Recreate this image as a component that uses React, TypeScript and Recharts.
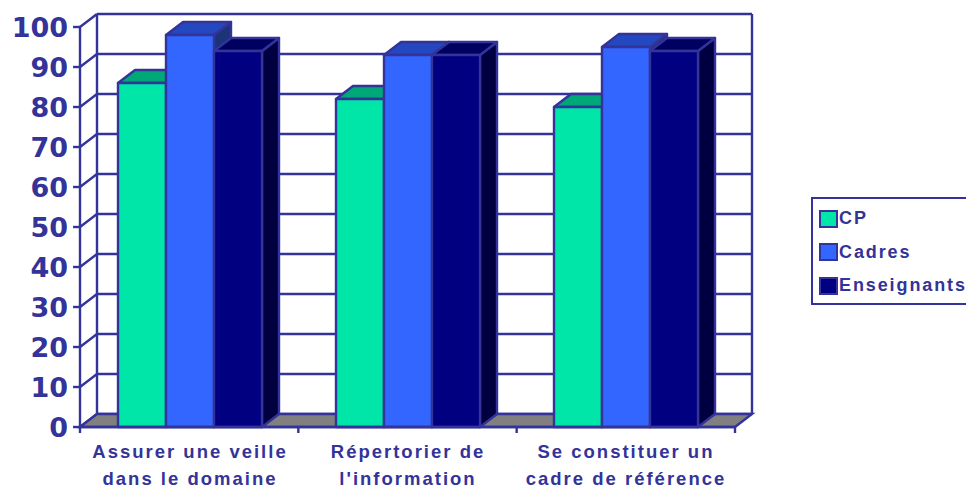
import { BarChart, Bar, XAxis, YAxis, CartesianGrid, Legend, usePlotArea } from 'recharts'

const categories = ['Assurer une veille\ndans le domaine', 'Répertorier de\nl\'information', 'Se constituer un\ncadre de référence']
const cpValues = [86, 82, 80]
const cadresValues = [98, 93, 95]
const enseignantsValues = [94, 93, 94]
const yTicks = [0, 10, 20, 30, 40, 50, 60, 70, 80, 90, 100]

const data = categories.map((name, i) => ({
  name,
  CP: cpValues[i],
  Cadres: cadresValues[i],
  Enseignants: enseignantsValues[i],
}))

const INK = '#333399'
const DX = 17
const DY = 13
const LABEL_FONT = '"Liberation Sans", Arial, sans-serif'

function Bar3D({ x, y, width, height, fill, top, side }: any) {
  return (
    <g stroke={INK} strokeWidth={2.4} strokeLinejoin="round">
      <polygon fill={side} points={`${x + width},${y} ${x + width + DX},${y - DY} ${x + width + DX},${y + height - DY} ${x + width},${y + height}`} />
      <polygon fill={top} points={`${x},${y} ${x + DX},${y - DY} ${x + width + DX},${y - DY} ${x + width},${y}`} />
      <rect x={x} y={y} width={width} height={height} fill={fill} />
    </g>
  )
}

// back wall, floor and the ticks between the categories
function Walls() {
  const plot = usePlotArea()
  if (!plot) return null
  const { x, y, width, height } = plot
  const bottom = y + height
  const band = width / categories.length
  return (
    <g stroke={INK} strokeWidth={2.4} fill="none">
      <polygon
        fill="#808080"
        points={`${x},${bottom} ${x + DX},${bottom - DY} ${x + width + DX},${bottom - DY} ${x + width},${bottom}`}
      />
      <line x1={x + DX} y1={y - DY} x2={x + DX} y2={bottom - DY} />
      <line x1={x + width + DX} y1={y - DY} x2={x + width + DX} y2={bottom - DY} />
      {categories.map((_, i) => (
        <line key={i} x1={x + band * (i + 1)} y1={bottom} x2={x + band * (i + 1)} y2={bottom + 6} />
      ))}
      <line x1={x} y1={bottom} x2={x} y2={bottom + 6} />
    </g>
  )
}

function GridLine({ x1, y1, x2, y2 }: any) {
  return (
    <g>
      <line x1={x1} y1={y1} x2={x1 + DX} y2={y1 - DY} stroke={INK} strokeWidth={2.4} />
      <line x1={x1 + DX} y1={y1 - DY} x2={x2 + DX} y2={y2 - DY} stroke={INK} strokeWidth={2.4} />
    </g>
  )
}

function CategoryTick({ x, y, payload }: any) {
  const lines = String(payload.value).split('\n')
  return (
    <text x={x} y={y + 10} textAnchor="middle" fill={INK} fontFamily={LABEL_FONT} fontSize={18.5} fontWeight="bold" letterSpacing={2}>
      {lines.map((line, i) => (
        <tspan key={i} x={x} dy={i === 0 ? 0 : 27}>{line}</tspan>
      ))}
    </text>
  )
}

function LegendBox({ payload }: any) {
  return (
    <div style={{ border: `2px solid ${INK}`, boxSizing: 'border-box', width: 170, height: 108, padding: '3px 0 0 6px' }}>
      {(payload ?? []).map((entry: any) => (
        <div key={entry.value} style={{ display: 'flex', alignItems: 'center', height: 33.5, color: INK, fontFamily: LABEL_FONT, fontSize: 18, fontWeight: 'bold', letterSpacing: 1.9 }}>
          <span style={{ width: 15, height: 14, marginRight: 1, background: entry.color, border: `2px solid ${INK}`, display: 'inline-block' }} />
          {entry.value}
        </div>
      ))}
    </div>
  )
}

export default function App() {
  return (
    <div style={{ position: 'absolute', left: 0, top: 0, width: 966, height: 488, overflow: 'hidden', background: '#fff' }}>
      <BarChart
        width={966}
        height={488}
        data={data}
        barGap={0}
        barCategoryGap={37}
        margin={{ top: 27, right: 231, bottom: 0, left: 0 }}
      >
        <CartesianGrid vertical={false} horizontal={(props: any) => <GridLine key={props.y1} {...props} />} />
        <Walls />
        <XAxis
          dataKey="name"
          height={61}
          interval={0}
          padding={{ left: 1, right: 0 }}
          axisLine={{ stroke: INK, strokeWidth: 2.4 }}
          tickLine={false}
          tick={<CategoryTick />}
          tickMargin={15}
        />
        <YAxis
          domain={[0, 100]}
          ticks={yTicks}
          interval={0}
          width={80}
          axisLine={{ stroke: INK, strokeWidth: 2.4 }}
          tickLine={{ stroke: INK, strokeWidth: 2.4 }}
          tickSize={7}
          tickMargin={5}
          tick={{ fill: INK, fontFamily: '"DejaVu Sans", sans-serif', fontSize: 27, fontWeight: 'bold' }}
        />
        <Legend
          layout="vertical"
          align="center"
          verticalAlign="middle"
          wrapperStyle={{ left: 811, top: 197, width: 170 }}
          content={<LegendBox />}
        />
        <Bar dataKey="CP" fill="#00E6A8" isAnimationActive={false} shape={(p: any) => <Bar3D {...p} top="#00A878" side="#00835E" />} />
        <Bar dataKey="Cadres" fill="#3366FF" isAnimationActive={false} shape={(p: any) => <Bar3D {...p} top="#2448BF" side="#1B3478" />} />
        <Bar dataKey="Enseignants" fill="#000080" isAnimationActive={false} shape={(p: any) => <Bar3D {...p} top="#000060" side="#000040" />} />
      </BarChart>
    </div>
  )
}
